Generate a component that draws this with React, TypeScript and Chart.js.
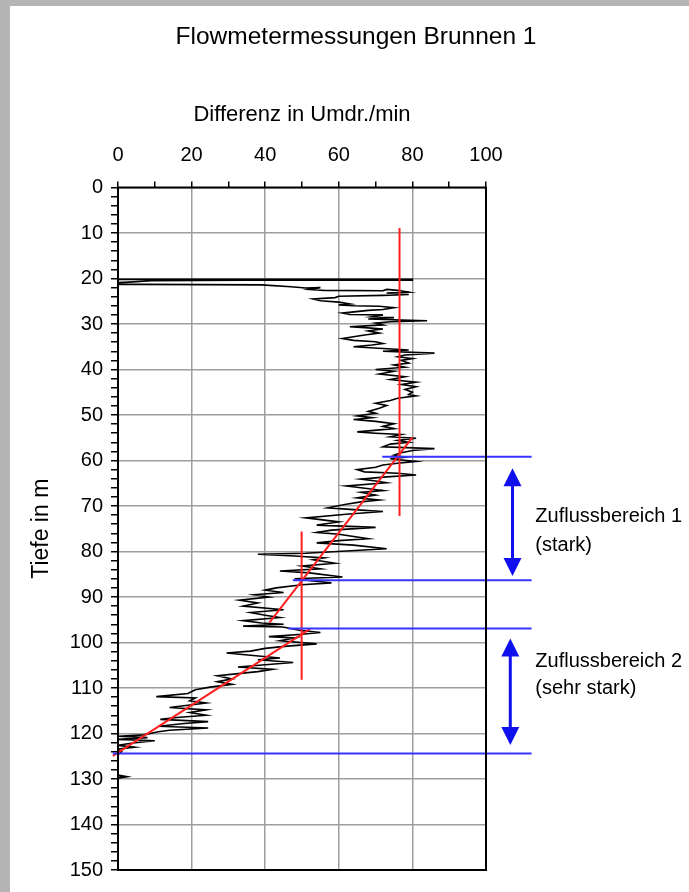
import React, { useEffect, useRef } from 'react';
import { Chart, registerables } from 'chart.js';

Chart.register(...registerables);

const FONT = '"Liberation Sans", Arial, Helvetica, sans-serif';

// [Differenz in Umdr./min, Tiefe in m]
const profileUpper: [number, number][] = [
  [0, 20.2], [80, 20.2], [80, 20.4], [35, 20.4], [9, 20.5], [3, 20.8], [0, 20.9], [0, 21.3], [6, 21.3],
  [39, 21.4], [47, 21.8], [51, 22.1], [55, 22.0], [52, 22.4], [56, 22.6], [72, 22.7], [73, 22.4],
  [76, 22.6], [79, 23.0], [73, 23.2], [79, 23.5], [72, 23.7], [60, 23.9], [59, 24.2], [53, 24.5],
  [55, 24.9], [60, 25.2], [63, 25.6], [60, 25.8], [64, 26.0], [71, 26.1], [75, 26.4], [72, 26.8],
  [68, 27.0], [61, 27.6], [63, 27.9], [72, 28.0], [69, 28.4], [75, 28.6], [68, 28.9], [84, 29.3],
  [74, 29.5], [70, 29.8], [72, 30.2], [63, 30.6], [67, 30.8], [72, 31.1], [68, 31.5], [71, 32.0],
  [67, 32.4], [61, 33.2], [64, 33.6], [70, 33.9], [72, 34.3], [69, 34.6], [64, 35.0], [72, 35.4],
  [79, 35.7], [72, 36.0], [86, 36.4], [78, 36.8], [76, 37.2], [80, 37.6], [77, 38.0], [79, 38.6],
  [75, 39.0], [78, 39.5], [70, 40.0], [75, 40.4], [71, 41.0], [78, 41.6], [74, 42.2], [81, 42.8],
  [77, 43.3], [81, 43.8], [78, 44.4], [80, 45.0], [79, 45.5], [81, 45.8], [76, 46.3], [74, 46.8],
  [70, 47.4], [73, 47.9], [71, 48.5], [68, 49.2], [70, 49.6], [65, 50.2], [69, 50.6], [64, 51.0],
  [70, 51.4], [75, 51.9], [72, 52.5], [75, 53.0], [65, 53.7], [70, 54.0], [77, 54.3], [74, 54.8],
  [81, 55.1], [76, 55.6], [79, 56.0], [74, 56.4], [72, 57.0], [86, 57.4], [80, 57.8], [77, 58.3],
  [75, 58.8],
];

const profileMiddle: [number, number][] = [
  [78, 59.3], [74, 59.6], [81, 60.2], [76, 60.6], [72, 61.0], [70, 61.5], [65, 62.0], [67, 62.5],
  [76, 62.8], [81, 63.2], [73, 63.6], [66, 64.1], [70, 64.5], [73, 64.9], [62, 65.6], [66, 66.0],
  [72, 66.6], [66, 67.0], [70, 67.6], [65, 68.2], [71, 68.7], [66, 69.1], [62, 69.6], [57, 70.4],
  [64, 70.8], [72, 71.2], [62, 71.8], [51, 72.6], [55, 73.0], [60, 73.5], [54, 74.2], [70, 74.7],
  [58, 75.3], [54, 75.8], [60, 76.2], [68, 77.2], [60, 77.6], [54, 78.1], [64, 78.6], [73, 79.4],
  [62, 79.9], [51, 80.4], [38, 80.6], [48, 81.0], [56, 81.4], [53, 81.8], [59, 82.6], [50, 83.2],
  [55, 83.8], [44, 84.3], [52, 84.7], [61, 85.6], [48, 86.0], [53, 86.5], [58, 86.9], [50, 87.3],
  [43, 88.0], [40, 88.5], [45, 89.0], [37, 89.5], [41, 90.0], [33, 90.7], [38, 91.3], [34, 92.0],
  [45, 92.8], [36, 93.4], [40, 94.0], [44, 94.5], [34, 95.2], [39, 95.7], [45, 96.0], [34, 96.4],
];

const profileLower: [number, number][] = [
  [44.8, 96.6], [50, 97.4], [55, 97.8], [50, 98.2], [41, 98.7], [48, 99.0], [44, 99.6], [54, 100.3],
  [46, 100.8], [40, 101.3], [36, 101.9], [29.5, 102.3], [36, 102.8], [44, 103.4], [38, 103.8],
  [47.6, 104.4], [40, 104.9], [32.6, 105.4], [42, 105.9], [38, 106.4], [32, 106.9], [27, 107.3],
  [31, 108.0], [27, 108.6], [31, 109.2], [25, 109.8], [21, 110.4], [19, 111.2], [10.4, 111.9],
  [21, 112.2], [19.5, 112.8], [24, 113.3], [14, 114.3], [24, 114.8], [19.5, 115.4], [24, 116.0],
  [16, 116.5], [11.5, 116.9], [24.5, 117.4], [18, 117.8], [11, 118.4], [24.5, 118.8], [14, 119.3],
  [11, 119.6], [7, 120.3], [0, 120.6], [8, 120.9], [0, 121.3], [10, 121.6], [4, 122.1], [0, 122.6],
  [4.5, 123.0], [0, 123.4], [1, 124.0], [0, 124.6],
];

const profileTail: [number, number][] = [
  [0, 129.2], [2.2, 129.5], [0, 129.8],
];

// red fit lines [Differenz, Tiefe]
const fitVertical1: [number, number][] = [[76.5, 8.9], [76.5, 72.2]];
const fitVertical2: [number, number][] = [[49.9, 75.6], [49.9, 108.2]];
const fitSlope1: [number, number][] = [[80, 54.9], [41.2, 95.6]];
const fitSlope2: [number, number][] = [[52.2, 97.0], [-1.4, 124.9]];

// blue zone boundaries
const boundaryDepths = [59.2, 86.3, 96.9, 124.4];
const boundaryStarts = [71.8, 47.5, 46.3, -1.4];
const boundaryEnd = 112.4;

// zone annotations
const zoneLabels = [['Zuflussbereich 1', '(stark)'], ['Zuflussbereich 2', '(sehr stark)']];
const zoneLabelDepths = [[72.4, 78.6], [104.1, 110.2]];
const zoneLabelX = 113.4;
const arrowX = [107.2, 106.6];
const arrowTop = [61.7, 99.1];
const arrowBottom = [85.4, 122.5];

const GRID = '#9d9d9d';
const BLUE = '#3535ff';
const RED = '#ff1f1f';

const toXY = (pts: [number, number][]) => pts.map(([x, y]) => ({ x, y }));

const overlayPlugin = {
  id: 'overlay',
  afterDatasetsDraw(chart: any) {
    const { ctx, chartArea: a, scales } = chart;
    const xs = scales.x;
    const ys = scales.y;
    ctx.save();
    ctx.strokeStyle = '#000';
    ctx.lineWidth = 2;
    ctx.strokeRect(a.left, a.top, a.right - a.left, a.bottom - a.top);

    ctx.strokeStyle = '#1010ee';
    ctx.fillStyle = '#1010ee';
    for (let i = 0; i < arrowX.length; i++) {
      const px = xs.getPixelForValue(arrowX[i]);
      const t = ys.getPixelForValue(arrowTop[i]);
      const b = ys.getPixelForValue(arrowBottom[i]);
      const head = 18;
      const half = 9;
      ctx.lineWidth = 3;
      ctx.beginPath();
      ctx.moveTo(px, t + head - 2);
      ctx.lineTo(px, b - head + 2);
      ctx.stroke();
      ctx.beginPath();
      ctx.moveTo(px, t);
      ctx.lineTo(px - half, t + head);
      ctx.lineTo(px + half, t + head);
      ctx.closePath();
      ctx.fill();
      ctx.beginPath();
      ctx.moveTo(px, b);
      ctx.lineTo(px - half, b - head);
      ctx.lineTo(px + half, b - head);
      ctx.closePath();
      ctx.fill();
    }

    ctx.fillStyle = '#000';
    ctx.font = `20px ${FONT}`;
    ctx.textBaseline = 'middle';
    ctx.textAlign = 'left';
    const lx = xs.getPixelForValue(zoneLabelX);
    for (let i = 0; i < zoneLabels.length; i++) {
      for (let j = 0; j < zoneLabels[i].length; j++) {
        ctx.fillText(zoneLabels[i][j], lx, ys.getPixelForValue(zoneLabelDepths[i][j]));
      }
    }
    ctx.restore();
  },
};

export default function App() {
  const canvasRef = useRef<HTMLCanvasElement | null>(null);

  useEffect(() => {
    document.body.style.margin = '0';
    document.body.style.background = '#b4b4b4';
    const canvas = canvasRef.current;
    if (!canvas) return;

    const line = (data: [number, number][], color: string, width: number, order: number, clip = true) => ({
      data: toXY(data),
      showLine: true,
      borderColor: color,
      backgroundColor: color,
      borderWidth: width,
      pointRadius: 0,
      pointHoverRadius: 0,
      fill: false,
      tension: 0,
      order,
      clip: clip ? undefined : false,
    });

    const datasets: any[] = [];
    boundaryDepths.forEach((d, i) => {
      datasets.push(line([[boundaryStarts[i], d], [boundaryEnd, d]], BLUE, 2, 1, false));
    });
    [fitVertical1, fitVertical2, fitSlope1, fitSlope2].forEach((f) => {
      datasets.push(line(f, RED, 2, 2, false));
    });
    datasets.push(line([...profileUpper, ...profileMiddle, ...profileLower], '#000', 1.6, 3));
    datasets.push(line(profileTail, '#000', 2, 3));

    const chart = new Chart(canvas, {
      type: 'scatter',
      data: { datasets },
      plugins: [overlayPlugin],
      options: {
        responsive: false,
        animation: false,
        devicePixelRatio: 1,
        layout: { padding: { left: 13, right: 0, top: 0, bottom: 22 } },
        plugins: {
          legend: { display: false },
          tooltip: { enabled: false },
          title: {
            display: true,
            text: 'Flowmetermessungen Brunnen 1',
            color: '#000',
            font: { size: 24.5, family: FONT, weight: 'normal' },
            padding: { top: 16.3, bottom: 10 },
          },
        },
        scales: {
          x: {
            type: 'linear',
            position: 'top',
            min: 0,
            max: 100,
            ticks: {
              stepSize: 10,
              autoSkip: false,
              maxRotation: 0,
              padding: 14,
              color: '#000',
              font: { size: 20, family: FONT },
              callback: (v: any) => (Number(v) % 20 === 0 ? String(v) : ''),
            },
            grid: {
              color: (c: any) => (c.tick && c.tick.value % 20 === 0 ? GRID : 'rgba(0,0,0,0)'),
              lineWidth: 1.5,
              drawTicks: true,
              tickLength: 6,
              tickColor: '#000',
              tickWidth: 1.5,
            },
            border: { display: false },
            title: {
              display: true,
              text: 'Differenz in Umdr./min',
              color: '#000',
              font: { size: 22, family: FONT },
              padding: { top: 40.1, bottom: 0 },
            },
            afterFit: (s: any) => {
              s.height = 125.8;
            },
          },
          y: {
            type: 'linear',
            position: 'left',
            reverse: true,
            min: 0,
            max: 150,
            ticks: {
              stepSize: 2,
              autoSkip: false,
              padding: 8,
              color: '#000',
              font: { size: 20, family: FONT },
              callback: (v: any) => (Number(v) % 10 === 0 ? String(v) : ''),
            },
            grid: {
              color: (c: any) => (c.tick && c.tick.value % 10 === 0 ? GRID : 'rgba(0,0,0,0)'),
              lineWidth: 1.5,
              drawTicks: true,
              tickLength: 7,
              tickColor: '#000',
              tickWidth: 1.5,
            },
            border: { display: false },
            title: {
              display: true,
              text: 'Tiefe in m',
              color: '#000',
              font: { size: 23, family: FONT },
              padding: { top: 4.5, bottom: 0 },
            },
            afterFit: (s: any) => {
              s.width = 95;
            },
          },
          yR: {
            type: 'linear',
            position: 'right',
            display: true,
            ticks: { display: false },
            grid: { display: false },
            border: { display: false },
            afterFit: (s: any) => {
              s.width = 203;
            },
          },
        },
      } as any,
    });

    return () => chart.destroy();
  }, []);

  return (
    <div
      style={{
        position: 'absolute',
        left: 10,
        top: 6,
        width: 679,
        height: 886,
        background: '#fff',
        overflow: 'hidden',
      }}
    >
      <canvas ref={canvasRef} width={679} height={886} style={{ display: 'block' }} />
    </div>
  );
}
